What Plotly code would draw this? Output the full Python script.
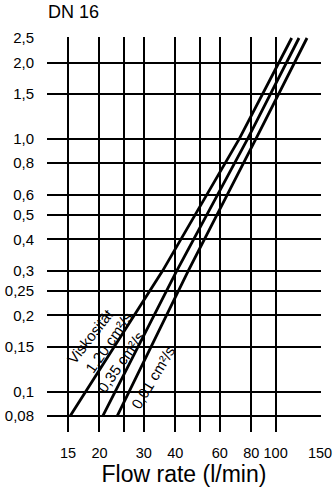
import numpy as np
import plotly.graph_objects as go

# ---- data ----
y_ticks = [0.08, 0.1, 0.15, 0.2, 0.25, 0.3, 0.4, 0.5, 0.6, 0.8, 1.0, 1.5, 2.0, 2.5]
y_labels = ["0,08", "0,1", "0,15", "0,2", "0,25", "0,3", "0,4", "0,5", "0,6", "0,8", "1,0", "1,5", "2,0", "2,5"]
x_ticks = [15, 20, 25, 30, 40, 50, 60, 80, 100, 150]
x_labels = ["15", "20", "", "30", "40", "", "60", "80", "100", "150"]

pressure = [0.08, 0.3, 1.0, 2.5]
flow_120 = [15.3, 35.6, 71.8, 115.8]   # 1,20 cm²/s
flow_035 = [20.6, 40.5, 77.5, 123.8]   # 0,35 cm²/s
flow_001 = [23.5, 45.0, 83.6, 133.2]   # 0,01 cm²/s

FONT = "Liberation Sans, Arial, sans-serif"

fig = go.Figure()
for fx in (flow_120, flow_035, flow_001):
    fig.add_trace(go.Scatter(x=fx, y=pressure, mode="lines",
                             line=dict(color="black", width=2.8),
                             showlegend=False, hoverinfo="skip"))

labels = [
    ("Viskosität", 18.5, 0.166, -52),
    ("1,20 cm²/s", 21.8, 0.156, -55),
    ("0,35 cm²/s", 24.4, 0.131, -55),
    ("0,01 cm²/s", 32.6, 0.1136, -59),
]
for txt, lx, ly, ang in labels:
    fig.add_annotation(x=np.log10(lx), y=np.log10(ly), xref="x", yref="y",
                       text=txt, showarrow=False, textangle=ang,
                       font=dict(family=FONT, size=15, color="black"))

fig.update_xaxes(type="log", range=[1.0928, 2.180], automargin=False,
                 tickvals=x_ticks, ticktext=x_labels,
                 showgrid=True, gridcolor="black", gridwidth=1.5,
                 showline=False, zeroline=False, ticks="",
                 ticklabelstandoff=10,
                 tickfont=dict(family=FONT, size=14.5, color="black"),
                 title=dict(text="Flow rate (l/min)", standoff=6,
                            font=dict(family=FONT, size=23, color="black")))
fig.update_yaxes(type="log", range=[-1.1601, 0.4019], automargin=False,
                 tickvals=y_ticks, ticktext=y_labels,
                 showgrid=True, gridcolor="black", gridwidth=1.5,
                 showline=False, zeroline=False, ticks="",
                 ticklabelstandoff=12,
                 tickfont=dict(family=FONT, size=15, color="black"))

fig.update_layout(
    width=334, height=500,
    margin=dict(l=47, r=13, t=37, b=68),
    paper_bgcolor="white", plot_bgcolor="white",
    title=dict(text="DN 16", xref="container", yref="container",
               x=48/334, xanchor="left", y=1-12/500, yanchor="middle",
               font=dict(family=FONT, size=18, color="black")),
)

fig.write_html("out.html", config={"displayModeBar": False},
               post_script="document.body.style.margin='0';document.body.style.overflow='hidden';")
